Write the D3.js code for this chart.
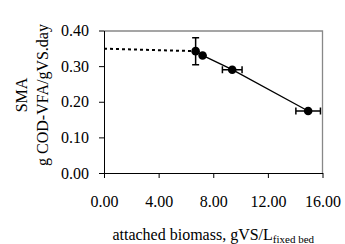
<!DOCTYPE html>
<html>
<head>
<meta charset="utf-8">
<script src="https://cdn.jsdelivr.net/npm/d3@7"></script>
<style>
body { margin: 0; background: #fff; }
text { font-family: "Liberation Serif", "Times New Roman", serif; fill: #000; }
</style>
</head>
<body>
<div id="chart"></div>
<script>
// data
var biomass = [6.71, 7.22, 9.39, 14.95];
var sma = [0.342, 0.330, 0.290, 0.174];
var xErr = [0, 0, 0.72, 0.90];
var yErr = [0.038, 0, 0, 0];
// extrapolated part (dotted) back to zero biomass
var extrapX = [0, 6.71];
var extrapY = [0.349, 0.342];
var xTicks = [0, 4, 8, 12, 16];
var yTicks = [0, 0.1, 0.2, 0.3, 0.4];

var W = 345, H = 244;
var margin = {top: 30.5, right: 22.5, bottom: 71, left: 104};
var w = W - margin.left - margin.right,
	h = H - margin.top - margin.bottom;

var svg = d3.select('#chart').append('svg')
	.attr('width', W)
	.attr('height', H);

var g = svg.append('g')
	.attr('transform', 'translate(' + margin.left + ',' + margin.top + ')');

var x = d3.scaleLinear().domain([0, 16]).range([0, w]);
var y = d3.scaleLinear().domain([0, 0.4]).range([h, 0]);

//plot area frame (grey top/right)
g.append('path')
	.attr('d', 'M0,0.5H' + w + 'V' + (h + 1))
	.attr('fill', 'none')
	.attr('stroke', '#888')
	.attr('stroke-width', 1.3);

//axes
var xAxis = g.append('g')
	.attr('transform', 'translate(0,' + h + ')')
	.call(d3.axisBottom(x).tickValues(xTicks).tickSize(5).tickSizeOuter(0)
		.tickFormat(d3.format('.2f')));

var yAxis = g.append('g')
	.call(d3.axisLeft(y).tickValues(yTicks).tickSize(5).tickSizeOuter(0)
		.tickFormat(d3.format('.2f')));

[xAxis, yAxis].forEach(function(a){
	a.selectAll('path, line').attr('stroke', '#000');
	a.selectAll('text')
		.attr('font-family', '"Liberation Serif", serif')
		.attr('font-size', 16)
		.attr('fill', '#000');
});
xAxis.selectAll('text').attr('dy', 0).attr('y', 34);
yAxis.selectAll('text').attr('x', -15);

//dotted extrapolation
var line = d3.line()
	.x(function(d){ return x(d[0]); })
	.y(function(d){ return y(d[1]); });

g.append('path')
	.datum(d3.zip(extrapX, extrapY))
	.attr('d', line)
	.attr('fill', 'none')
	.attr('stroke', '#000')
	.attr('stroke-width', 2)
	.attr('stroke-dasharray', '3,3');

//solid trend through the points
g.append('path')
	.datum(d3.zip(biomass, sma))
	.attr('d', line)
	.attr('fill', 'none')
	.attr('stroke', '#000')
	.attr('stroke-width', 1.3);

//error bars
var pts = biomass.map(function(b, i){
	return {x: b, y: sma[i], ex: xErr[i], ey: yErr[i]};
});
var cap = 3.5;
pts.forEach(function(p){
	if(p.ex > 0){
		var x0 = x(p.x - p.ex), x1 = x(p.x + p.ex), yy = y(p.y);
		g.append('path')
			.attr('d', 'M' + x0 + ',' + yy + 'H' + x1 +
				'M' + x0 + ',' + (yy - cap) + 'V' + (yy + cap) +
				'M' + x1 + ',' + (yy - cap) + 'V' + (yy + cap))
			.attr('stroke', '#000').attr('stroke-width', 1.5).attr('fill', 'none');
	}
	if(p.ey > 0){
		var y0 = y(p.y - p.ey), y1 = y(p.y + p.ey), xx = x(p.x);
		g.append('path')
			.attr('d', 'M' + xx + ',' + y0 + 'V' + y1 +
				'M' + (xx - cap) + ',' + y0 + 'H' + (xx + cap) +
				'M' + (xx - cap) + ',' + y1 + 'H' + (xx + cap))
			.attr('stroke', '#000').attr('stroke-width', 1.5).attr('fill', 'none');
	}
});

//markers
g.selectAll('circle.pt')
	.data(pts)
	.enter()
	.append('circle')
	.attr('class', 'pt')
	.attr('cx', function(d){ return x(d.x); })
	.attr('cy', function(d){ return y(d.y); })
	.attr('r', 4.3)
	.attr('fill', '#000');

//x title with subscript
var xt = svg.append('text')
	.attr('x', margin.left + w / 2)
	.attr('y', 239.5)
	.attr('text-anchor', 'middle')
	.attr('font-size', 16);
xt.append('tspan').text('attached biomass, gVS/L');
xt.append('tspan').attr('font-size', 11).attr('dy', 3).text('fixed bed');

//y title, two lines
var yt = svg.append('text')
	.attr('transform', 'translate(27,95) rotate(-90)')
	.attr('text-anchor', 'middle')
	.attr('font-size', 16);
yt.append('tspan').attr('x', 0).attr('y', 0).text('SMA');
yt.append('tspan').attr('x', 0).attr('y', 21).text('g COD-VFA/gVS.day');
</script>
</body>
</html>
